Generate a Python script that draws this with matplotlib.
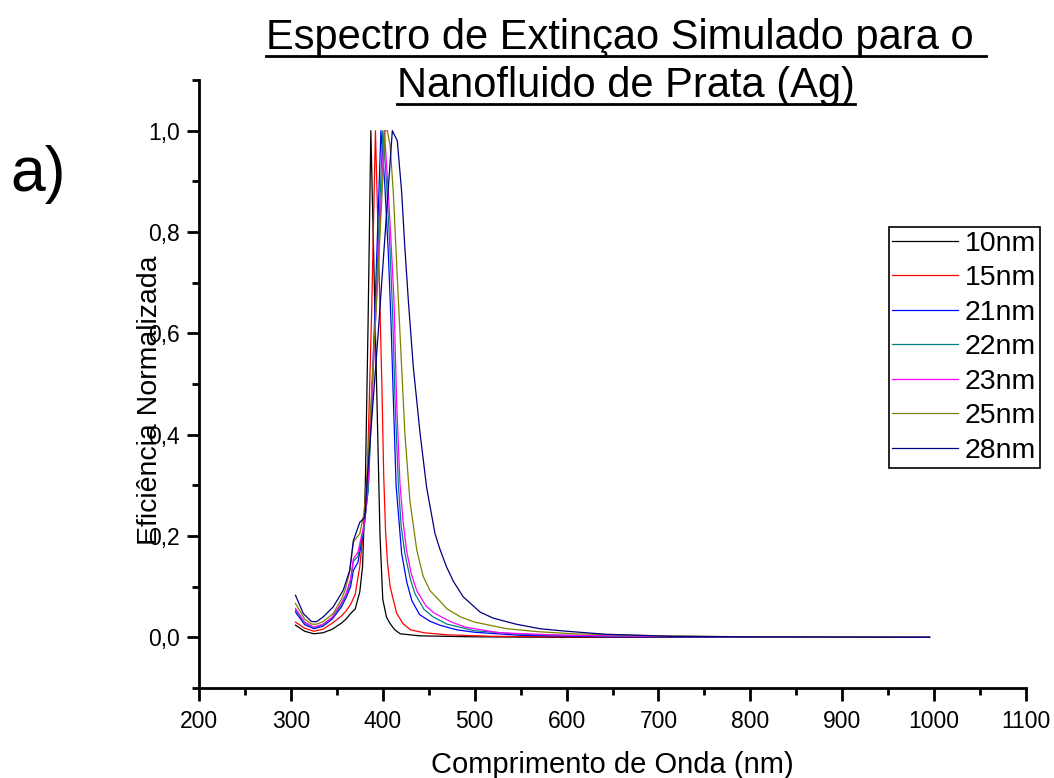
import numpy as np
import matplotlib
matplotlib.use('Agg')
import matplotlib.pyplot as plt
from matplotlib.ticker import MultipleLocator, FuncFormatter
from matplotlib.lines import Line2D

plt.rcParams['font.family'] = ['Liberation Sans', 'DejaVu Sans']

# dados (comprimento de onda em nm, eficiencia normalizada)
wl_10 = [305, 315, 325, 335, 345, 355, 360, 365, 370, 375, 378, 381, 384, 387,
         392, 397, 400, 404, 408, 413, 419, 440, 500, 600, 800, 995]
ef_10 = [0.024, 0.012, 0.007, 0.009, 0.016, 0.028, 0.036, 0.047, 0.056, 0.09, 0.14, 0.30, 0.62, 1.0,
         0.60, 0.20, 0.075, 0.04, 0.027, 0.015, 0.007, 0.003, 0.001, 0.0, 0.0, 0.0]

wl_15 = [305, 315, 325, 335, 345, 355, 360, 365, 370, 375, 380, 383, 388, 392,
         396, 399, 401, 403, 405, 408, 415, 422, 430, 445, 470, 520, 600, 995]
ef_15 = [0.030, 0.018, 0.012, 0.016, 0.028, 0.042, 0.052, 0.065, 0.085, 0.14, 0.23, 0.31, 0.65, 1.0,
         0.72, 0.50, 0.32, 0.21, 0.15, 0.10, 0.048, 0.027, 0.015, 0.009, 0.005, 0.002, 0.001, 0.0]

wl_21 = [305, 315, 325, 335, 345, 355, 360, 365, 368, 373, 379, 384, 391, 398,
         402, 406, 409, 411.5, 414.5, 420.5, 426, 431.5, 440, 451, 462, 480, 500, 550, 650, 995]
ef_21 = [0.050, 0.025, 0.017, 0.022, 0.036, 0.060, 0.078, 0.10, 0.132, 0.148, 0.21, 0.29, 0.62, 1.0,
         0.90, 0.76, 0.62, 0.47, 0.30, 0.166, 0.11, 0.073, 0.045, 0.032, 0.024, 0.015, 0.010, 0.004, 0.001, 0.0]

wl_22 = [305, 315, 325, 335, 345, 355, 360, 365, 368, 373, 380, 384.5, 392, 400,
         404, 408, 410.7, 413.3, 417, 420, 424, 430, 435, 445, 455, 470, 500, 550, 650, 750, 995]
ef_22 = [0.054, 0.028, 0.019, 0.024, 0.039, 0.064, 0.083, 0.11, 0.15, 0.16, 0.22, 0.30, 0.64, 1.0,
         0.90, 0.76, 0.64, 0.47, 0.30, 0.22, 0.166, 0.115, 0.086, 0.055, 0.040, 0.026, 0.013, 0.006, 0.002, 0.001, 0.0]

wl_23 = [305, 315, 325, 335, 345, 355, 360, 365, 368, 373, 380.5, 384, 393, 401.7,
         406, 409, 412.2, 415, 418.7, 422, 425.8, 431, 437, 447, 455, 462, 475, 490, 527, 600, 700, 800, 995]
ef_23 = [0.057, 0.030, 0.020, 0.026, 0.040, 0.068, 0.086, 0.115, 0.155, 0.168, 0.23, 0.31, 0.66, 1.0,
         0.88, 0.78, 0.665, 0.468, 0.304, 0.23, 0.172, 0.125, 0.092, 0.062, 0.049, 0.042, 0.030, 0.020, 0.009,
         0.004, 0.002, 0.001, 0.0]

wl_25 = [305, 315, 322.5, 328, 335, 346, 355, 359, 364, 368, 375, 379.5, 382.5, 395, 402.5, 405,
         408, 411.4, 414, 417, 420.5, 424, 429.5, 437, 444, 451.5, 462, 470, 485, 500, 535, 570, 607, 700, 800, 995]
ef_25 = [0.067, 0.036, 0.026, 0.026, 0.031, 0.047, 0.075, 0.093, 0.13, 0.188, 0.205, 0.244, 0.31, 0.72, 1.0, 1.0,
         0.97, 0.88, 0.78, 0.665, 0.534, 0.404, 0.27, 0.172, 0.12, 0.092, 0.072, 0.056, 0.040, 0.030, 0.017,
         0.011, 0.007, 0.003, 0.001, 0.0]

wl_28 = [305, 313.5, 322.5, 328, 335, 346, 357, 364, 368, 375, 380.5, 383, 395, 405, 410.4,
         415.8, 420.5, 424, 427.8, 433.2, 440.5, 447.7, 456.8, 462, 469.4, 477, 487.5, 505.8, 520,
         545, 571, 600, 643, 716, 800, 995]
ef_28 = [0.083, 0.047, 0.031, 0.031, 0.040, 0.060, 0.093, 0.132, 0.191, 0.227, 0.237, 0.31, 0.60, 0.86, 1.0,
         0.98, 0.88, 0.77, 0.665, 0.534, 0.404, 0.296, 0.205, 0.175, 0.139, 0.11, 0.08, 0.05, 0.038,
         0.026, 0.017, 0.012, 0.006, 0.002, 0.001, 0.0]

series = [(wl_10, ef_10), (wl_15, ef_15), (wl_21, ef_21), (wl_22, ef_22),
          (wl_23, ef_23), (wl_25, ef_25), (wl_28, ef_28)]
labels = ['10nm', '15nm', '21nm', '22nm', '23nm', '25nm', '28nm']
colors = ['#000000', '#ff0000', '#0000ff', '#008080', '#ff00ff', '#808000', '#000080']

fig = plt.figure(figsize=(10.54, 7.78), dpi=100)
ax = fig.add_axes([199/1054, 1-688/778, 827/1054, 608/778])

for (x, y), lab, c in zip(series, labels, colors):
    ax.plot(x, y, color=c, lw=0.9, label=lab)

ax.set_xlim(200, 1100)
ax.set_ylim(-0.1, 1.1)
ax.spines['top'].set_visible(False)
ax.spines['right'].set_visible(False)
for s in ['left', 'bottom']:
    ax.spines[s].set_linewidth(2)
ax.xaxis.set_major_locator(MultipleLocator(100))
ax.xaxis.set_minor_locator(MultipleLocator(50))
ax.yaxis.set_major_locator(MultipleLocator(0.2))
ax.yaxis.set_minor_locator(MultipleLocator(0.1))
ax.yaxis.set_major_formatter(FuncFormatter(lambda v, p: ('%.1f' % v).replace('.', ',')))
ax.tick_params(which='major', direction='out', length=9, width=2, labelsize=16.5)
ax.tick_params(which='minor', direction='out', length=5, width=2)
ax.tick_params(axis='x', which='major', pad=7)
ax.tick_params(axis='y', which='major', pad=5)

ax.set_xlabel('Comprimento de Onda (nm)', fontsize=21)
ax.xaxis.set_label_coords(0.5, -0.103)
ax.set_ylabel('Eficiência Normalizada', fontsize=20.5)
ax.yaxis.set_label_coords(-0.0435, 0.474)

leg = ax.legend(loc='upper right', bbox_to_anchor=(1040/1054, 1-227/778),
                bbox_transform=fig.transFigure, fontsize=20.5, frameon=True,
                fancybox=False, framealpha=1, edgecolor='black', borderpad=0.13,
                labelspacing=0.3, handlelength=2.3, handletextpad=0.25, borderaxespad=0)
leg.get_frame().set_linewidth(1.2)

t1 = fig.text(0.594, 1-38/778, 'Espectro de Extinçao Simulado para o ', fontsize=30,
              ha='center', va='center')
t2 = fig.text(0.594, 1-86/778, 'Nanofluido de Prata (Ag)', fontsize=30,
              ha='center', va='center')
fig.text(10/1054, 1-175/778, 'a)', fontsize=45, ha='left', va='center')

# sublinhado do titulo
fig.canvas.draw()
r = fig.canvas.get_renderer()
for t in [t1, t2]:
    bb = t.get_window_extent(r)
    yy = (bb.y0 + 2) / fig.bbox.height
    fig.add_artist(Line2D([bb.x0 / fig.bbox.width, bb.x1 / fig.bbox.width], [yy, yy],
                          transform=fig.transFigure, color='black', lw=2))

fig.savefig('out.png', dpi=100)
